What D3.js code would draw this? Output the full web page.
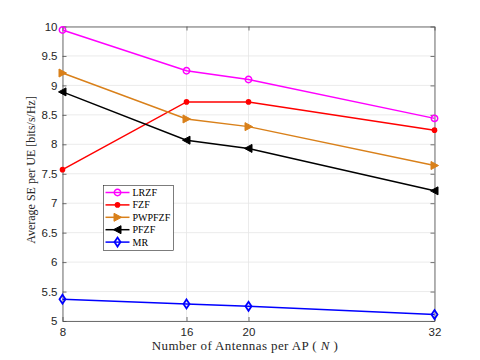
<!DOCTYPE html>
<html>
  <head>
    <script src="https://d3js.org/d3.v7.min.js"></script>
    <style>
      body { margin: 0; background: #fff; }
    </style>
  </head>
  <body>
    <svg width="480" height="360"></svg>
    <script>
      var antennas = [8, 16, 20, 32];
      var yTicks = [5, 5.5, 6, 6.5, 7, 7.5, 8, 8.5, 9, 9.5, 10];
      var lrzf = [9.94, 9.25, 9.1, 8.44];
      var fzf = [7.57, 8.72, 8.72, 8.24];
      var pwpfzf = [9.21, 8.43, 8.3, 7.64];
      var pfzf = [8.89, 8.07, 7.93, 7.21];
      var mr = [5.37, 5.29, 5.25, 5.11];

      var series = [
        { name: "LRZF", values: lrzf, color: "#ff00ff", marker: "circle" },
        { name: "FZF", values: fzf, color: "#ff0000", marker: "dot" },
        { name: "PWPFZF", values: pwpfzf, color: "#d9801a", marker: "right" },
        { name: "PFZF", values: pfzf, color: "#000000", marker: "left" },
        { name: "MR", values: mr, color: "#0000ff", marker: "diamond" }
      ];

      var svg = d3.select("svg");
      var plotL = 62.5, plotR = 434.5, plotT = 26.5, plotB = 321;

      var x = d3.scaleLinear().domain([8, 32]).range([plotL, plotR]);
      var y = d3.scaleLinear().domain([5, 10]).range([plotB, plotT]);

      // grid
      svg.append("g")
        .selectAll("line")
        .data(antennas)
        .enter()
        .append("line")
        .attr("x1", function(d) { return x(d); })
        .attr("x2", function(d) { return x(d); })
        .attr("y1", plotT)
        .attr("y2", plotB)
        .attr("stroke", "#e6e6e6")
        .attr("stroke-width", 0.8);
      svg.append("g")
        .selectAll("line")
        .data(yTicks)
        .enter()
        .append("line")
        .attr("x1", plotL)
        .attr("x2", plotR)
        .attr("y1", function(d) { return y(d); })
        .attr("y2", function(d) { return y(d); })
        .attr("stroke", "#e6e6e6")
        .attr("stroke-width", 0.8);

      // axes
      svg.append("g")
        .attr("transform", "translate(0," + plotB + ")")
        .call(d3.axisBottom(x).tickValues(antennas).tickSizeInner(-4).tickSizeOuter(0).tickPadding(7));
      svg.append("g")
        .attr("transform", "translate(" + plotL + ",0)")
        .call(d3.axisLeft(y).tickValues(yTicks).tickSizeInner(-4).tickSizeOuter(0).tickPadding(5)
          .tickFormat(function(d) { return d3.format("")(d); }));
      svg.append("g")
        .attr("transform", "translate(" + plotR + ",0)")
        .call(d3.axisRight(y).tickValues(yTicks).tickSizeInner(-4).tickSizeOuter(0).tickFormat(""));
      svg.append("g")
        .attr("transform", "translate(0," + plotT + ")")
        .call(d3.axisTop(x).tickValues(antennas).tickSizeInner(-4).tickSizeOuter(0).tickFormat(""));

      svg.selectAll(".domain").attr("stroke", "#4d4d4d").attr("stroke-width", 0.8);
      svg.selectAll(".tick line").attr("stroke", "#4d4d4d").attr("stroke-width", 0.8);
      svg.selectAll(".tick text")
        .attr("fill", "#262626")
        .attr("font-family", "Liberation Sans, Arial, sans-serif")
        .attr("font-size", "11.5px");

      // lines
      var line = d3.line()
        .x(function(d, i) { return x(antennas[i]); })
        .y(function(d) { return y(d); });

      function drawMarker(g, type, color) {
        if (type === "circle") {
          g.append("circle").attr("r", 3.2).attr("fill", "none").attr("stroke", color).attr("stroke-width", 1.5);
        } else if (type === "dot") {
          g.append("circle").attr("r", 2.8).attr("fill", color);
        } else if (type === "right") {
          g.append("path").attr("d", "M-3.5,-4L4,0L-3.5,4Z").attr("fill", color).attr("stroke", color).attr("stroke-width", 1);
        } else if (type === "left") {
          g.append("path").attr("d", "M3.5,-4L-4,0L3.5,4Z").attr("fill", color).attr("stroke", color).attr("stroke-width", 1);
        } else if (type === "diamond") {
          g.append("path").attr("d", "M0,-4.5L3,0L0,4.5L-3,0Z").attr("fill", "none").attr("stroke", color).attr("stroke-width", 1.8);
        }
      }

      series.forEach(function(s) {
        svg.append("path")
          .datum(s.values)
          .attr("d", line)
          .attr("fill", "none")
          .attr("stroke", s.color)
          .attr("stroke-width", 1.5);
        s.values.forEach(function(v, i) {
          var g = svg.append("g").attr("transform", "translate(" + x(antennas[i]) + "," + y(v) + ")");
          drawMarker(g, s.marker, s.color);
        });
      });

      // legend
      var legend = svg.append("g").attr("transform", "translate(103.5,185.5)");
      legend.append("rect")
        .attr("width", 70)
        .attr("height", 65)
        .attr("fill", "#fff")
        .attr("stroke", "#262626")
        .attr("stroke-width", 0.6);
      series.forEach(function(s, i) {
        var ly = 7 + i * 12.4;
        legend.append("line")
          .attr("x1", 2).attr("x2", 26)
          .attr("y1", ly).attr("y2", ly)
          .attr("stroke", s.color)
          .attr("stroke-width", 1.5);
        var g = legend.append("g").attr("transform", "translate(14," + ly + ")");
        drawMarker(g, s.marker, s.color);
        legend.append("text")
          .attr("x", 29)
          .attr("y", ly + 3.5)
          .attr("font-family", "Liberation Serif, Times New Roman, serif")
          .attr("font-size", "10px")
          .attr("fill", "#000")
          .text(s.name);
      });

      // axis titles
      var xt = svg.append("text")
        .attr("x", 245)
        .attr("y", 350)
        .attr("text-anchor", "middle")
        .attr("font-family", "Liberation Serif, Times New Roman, serif")
        .attr("font-size", "13px")
        .attr("letter-spacing", "0.4px")
        .attr("fill", "#262626");
      xt.append("tspan").text("Number of Antennas per AP ( ");
      xt.append("tspan").attr("font-style", "italic").text("N");
      xt.append("tspan").text(" )");

      svg.append("text")
        .attr("transform", "translate(35,170) rotate(-90)")
        .attr("text-anchor", "middle")
        .attr("font-family", "Liberation Serif, Times New Roman, serif")
        .attr("font-size", "12px")
        .attr("fill", "#262626")
        .text("Average SE per UE [bits/s/Hz]");
    </script>
  </body>
</html>
